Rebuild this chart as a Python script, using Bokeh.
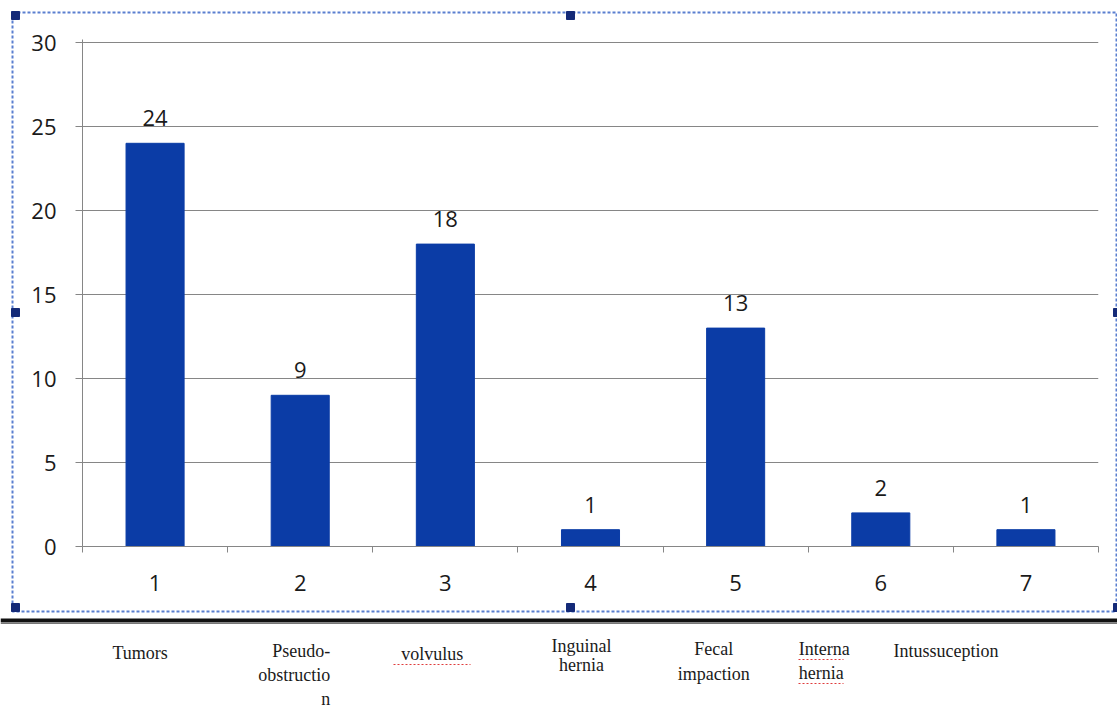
from bokeh.plotting import figure
from bokeh.models import (ColumnDataSource, FixedTicker, LabelSet, Range1d, GridBox)
from bokeh.core.properties import value
from bokeh.embed import file_html
from bokeh.resources import INLINE

# ---------------- data ----------------
positions = [1, 2, 3, 4, 5, 6, 7]
values = [24, 9, 18, 1, 13, 2, 1]
tick_labels = ["1", "2", "3", "4", "5", "6", "7"]
y_ticks = [0, 5, 10, 15, 20, 25, 30]
category_names = ["Tumors", "Pseudo-\nobstructio\nn", "volvulus", "Inguinal\nhernia",
                  "Fecal\nimpaction", "Interna\nhernia", "Intussuception"]

# ---------------- layout (pixels) ----------------
W, H = 1117, 713
PXU = 16.8                      # pixels per y unit
FL, FR, FT, FB = 82, 1098, 39, 546
X0, X1 = 0.5, 7.5
Y0 = 0
Y1 = (FB - FT) / PXU


def dx(px):
    return X0 + (px - FL) / (FR - FL) * (X1 - X0)


def dy(py):
    return Y0 + (FB - py) / PXU


BAR_COLOR = "#0b3ca6"
GRID = "#868686"
TXT = "#1a1a1a"
NUM_FONT = "Open Sans"
NUM_SIZE = "22px"

# ---------------- background / decoration layer ----------------
bg = figure(width=W, height=H, x_range=Range1d(dx(0), dx(W)), y_range=Range1d(dy(H), dy(0)),
            output_backend="svg", toolbar_location=None, x_axis_type=None, y_axis_type=None,
            min_border=0)
bg.frame_align = False
bg.outline_line_color = None
bg.grid.visible = False
bg.background_fill_color = "white"
bg.border_fill_color = "white"

# dashed selection frame
bx0, bx1, by0, by1 = 12, 1116, 12, 611
bg.line(x=[dx(bx0), dx(bx1), dx(bx1), dx(bx0), dx(bx0)],
        y=[dy(by0), dy(by0), dy(by1), dy(by1), dy(by0)],
        line_color="#5a7fd0", line_width=2, line_dash="3 2")
# handles
hxs = [15, 570, 15, 15, 570, 1117, 1117]
hys = [15, 15, 312, 607, 607, 312, 607]
bg.rect(x=[dx(v) for v in hxs], y=[dy(v) for v in hys], width=8, height=8,
        width_units="screen", height_units="screen", fill_color="#142a78",
        line_color="#142a78")
# thick black separator line
bg.segment(x0=[dx(0)], y0=[dy(620)], x1=[dx(W)], y1=[dy(620)],
           line_color="#111111", line_width=4)
bg.segment(x0=[dx(0)], y0=[dy(623)], x1=[dx(W)], y1=[dy(623)],
           line_color="#777777", line_width=1)

# category names (x offset px, align, first-line y px, line spacing px)
name_layout = [(-15, "center", 652, 0), (30, "right", 650, 24), (-13, "center", 653, 0),
               (-9, "center", 645, 19), (-22, "center", 648, 25), (-82, "left", 648, 24),
               (-80, "center", 650, 0)]
lx, ly, lt, la, lo = [], [], [], [], []
for pos, name, (off, al, y0, sp) in zip(positions, category_names, name_layout):
    for i, line in enumerate(name.split("\n")):
        lx.append(pos)
        ly.append(dy(y0 + i * sp))
        lt.append(line)
        la.append(al)
        lo.append(off)
bg.text(x="x", y="y", text="t", text_align="a", x_offset="o",
        source=ColumnDataSource(dict(x=lx, y=ly, t=lt, a=la, o=lo)),
        text_baseline="middle", text_font=value("Liberation Serif"),
        text_font_size="18px", text_color="#1a1a1a")

# spell-check squiggles
bg.segment(x0=[dx(393), dx(798), dx(798)], y0=[dy(664), dy(659), dy(683)],
           x1=[dx(470), dx(843), dx(843)], y1=[dy(664), dy(659), dy(683)],
           line_color="#e03c3c", line_width=1.2, line_dash="2 2")

# ---------------- main chart layer ----------------
p = figure(width=W, height=H, x_range=(X0, X1), y_range=(Y0, Y1),
           output_backend="svg", toolbar_location=None,
           min_border_left=FL, min_border_right=W - FR,
           min_border_top=FT, min_border_bottom=H - FB)
p.frame_align = False
p.outline_line_color = None
p.background_fill_alpha = 0
p.border_fill_alpha = 0

src = ColumnDataSource(dict(x=positions, top=values, lbl=[str(v) for v in values]))
p.vbar(x="x", top="top", width=0.4, bottom=0, source=src,
       fill_color=BAR_COLOR, line_color=BAR_COLOR)

p.add_layout(LabelSet(x="x", y="top", text="lbl", source=src, y_offset=17,
                      text_align="center", text_baseline="alphabetic",
                      text_font=value(NUM_FONT), text_font_size=NUM_SIZE, text_color=TXT))

p.xgrid.grid_line_color = None
p.ygrid.grid_line_color = GRID
p.ygrid.grid_line_width = 1.2
p.ygrid.ticker = FixedTicker(ticks=y_ticks)
p.yaxis.ticker = FixedTicker(ticks=y_ticks)
p.yaxis.major_tick_out = 7
p.yaxis.major_tick_in = 0
p.yaxis.minor_tick_out = 0
p.yaxis.minor_tick_in = 0
p.yaxis.axis_line_color = GRID
p.yaxis.major_tick_line_color = GRID
p.yaxis.major_label_standoff = 19
p.yaxis.major_label_text_font = NUM_FONT
p.yaxis.major_label_text_font_size = NUM_SIZE
p.yaxis.major_label_text_color = TXT

p.xaxis.ticker = FixedTicker(ticks=positions,
                             minor_ticks=[v + 0.5 for v in [0] + positions])
p.xaxis.major_label_overrides = {pos: t for pos, t in zip(positions, tick_labels)}
p.xaxis.major_tick_out = 0
p.xaxis.major_tick_in = 0
p.xaxis.minor_tick_out = 6
p.xaxis.minor_tick_in = 0
p.xaxis.minor_tick_line_color = GRID
p.xaxis.axis_line_color = GRID
p.xaxis.axis_line_width = 1.2
p.xaxis.major_label_standoff = 22
p.xaxis.major_label_text_font = NUM_FONT
p.xaxis.major_label_text_font_size = NUM_SIZE
p.xaxis.major_label_text_color = TXT

layout = GridBox(children=[(bg, 0, 0), (p, 0, 0)])

open("out.html", "w").write(file_html(layout, INLINE))
